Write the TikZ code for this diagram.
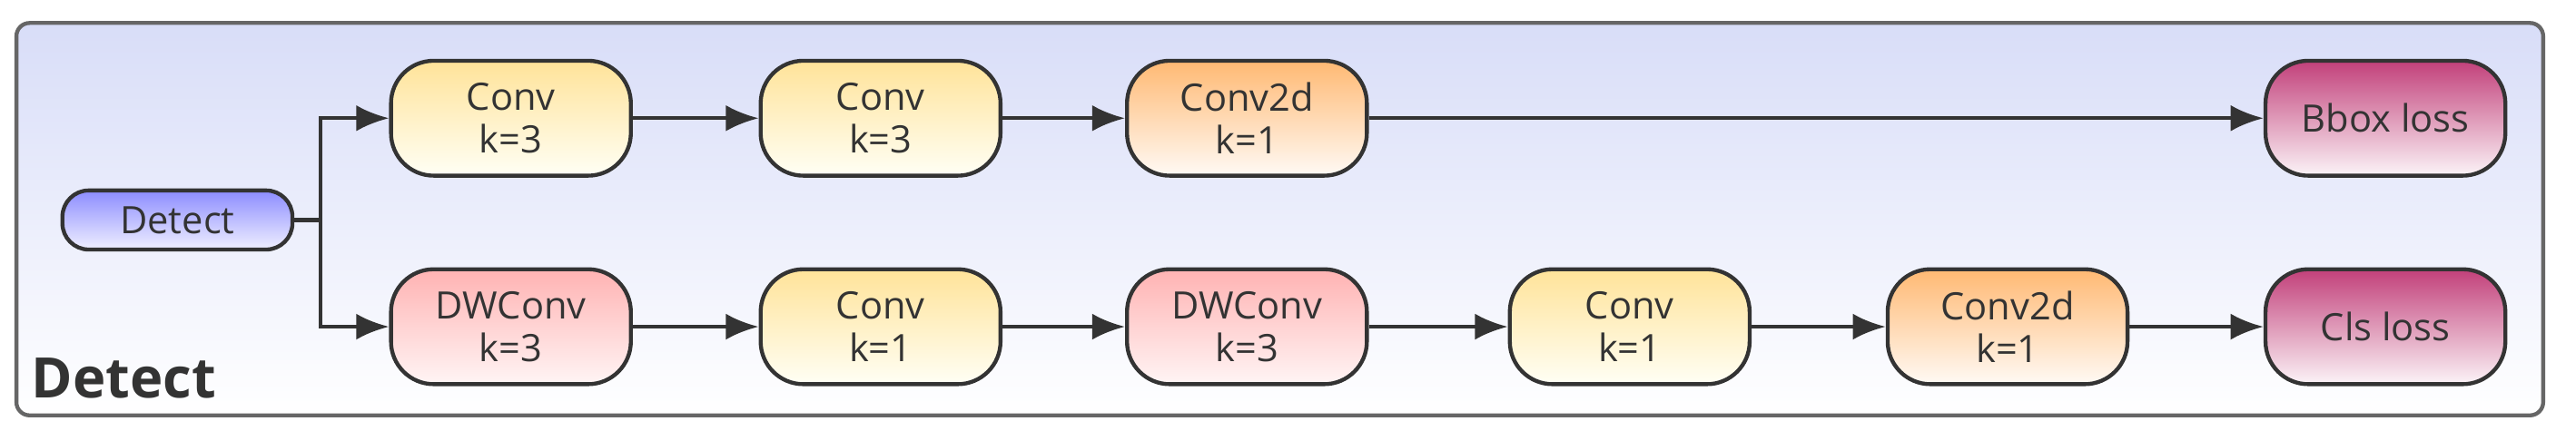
\documentclass[tikz,border=0pt]{standalone}
\usepackage{fontspec}
\setmainfont{Open Sans}
\usepackage{tikz}
\usetikzlibrary{arrows.meta,shapes}
\definecolor{linec}{HTML}{333333}
\definecolor{lossc}{HTML}{C2407A}
\definecolor{bgc}{HTML}{D8DDF8}

\begin{document}
\begin{tikzpicture}[x=0.5pt,y=-0.5pt,
  blk/.style={draw=linec,line width=1.2pt,rounded corners=13pt,minimum width=73pt,minimum height=35pt,align=center,font=\fontsize{11.5}{13}\selectfont,text=linec,inner sep=1pt},
  conv/.style={blk,top color=yellow!45!orange!40!white,bottom color=yellow!4},
  dw/.style={blk,top color=red!30,bottom color=red!4},
  c2d/.style={blk,top color=orange!55,bottom color=orange!4},
  loss/.style={blk,top color=lossc,bottom color=lossc!6},
  arr/.style={-{Latex[length=10pt,width=8pt]},line width=1.2pt,draw=linec}]
\useasboundingbox (0,0) rectangle (1568,262);
\draw[line width=1.2pt,draw=gray!80!black,rounded corners=4pt,top color=bgc,bottom color=white] (10,14) rectangle (1548,253);
\node[anchor=south west,font=\fontsize{17}{20}\selectfont\bfseries,text=linec] (title) at (12,250) {Detect};
\node (D) at (108,134)[blk,minimum width=70pt,minimum height=18pt,rounded corners=8pt,top color=blue!45,bottom color=blue!6] {Detect};
\node (A1) at (311,72)[conv] {Conv\\k=3};
\node (A2) at (536,72)[conv] {Conv\\k=3};
\node (A3) at (759,72)[c2d] {Conv2d\\k=1};
\node (A4) at (1452,72)[loss] {Bbox loss};
\node (B1) at (311,199)[dw] {DWConv\\k=3};
\node (B2) at (536,199)[conv] {Conv\\k=1};
\node (B3) at (759,199)[dw] {DWConv\\k=3};
\node (B4) at (992,199)[conv] {Conv\\k=1};
\node (B5) at (1222,199)[c2d] {Conv2d\\k=1};
\node (B6) at (1452,199)[loss] {Cls loss};
\coordinate (split) at (195,134);
\draw[line width=1.2pt,draw=linec] (D) -- (split);
\draw[arr] (split) |- (A1);
\draw[arr] (split) |- (B1);
\draw[arr] (A1) -- (A2);
\draw[arr] (A2) -- (A3);
\draw[arr] (A3) -- (A4);
\draw[arr] (B1) -- (B2);
\draw[arr] (B2) -- (B3);
\draw[arr] (B3) -- (B4);
\draw[arr] (B4) -- (B5);
\draw[arr] (B5) -- (B6);
\end{tikzpicture}
\end{document}
